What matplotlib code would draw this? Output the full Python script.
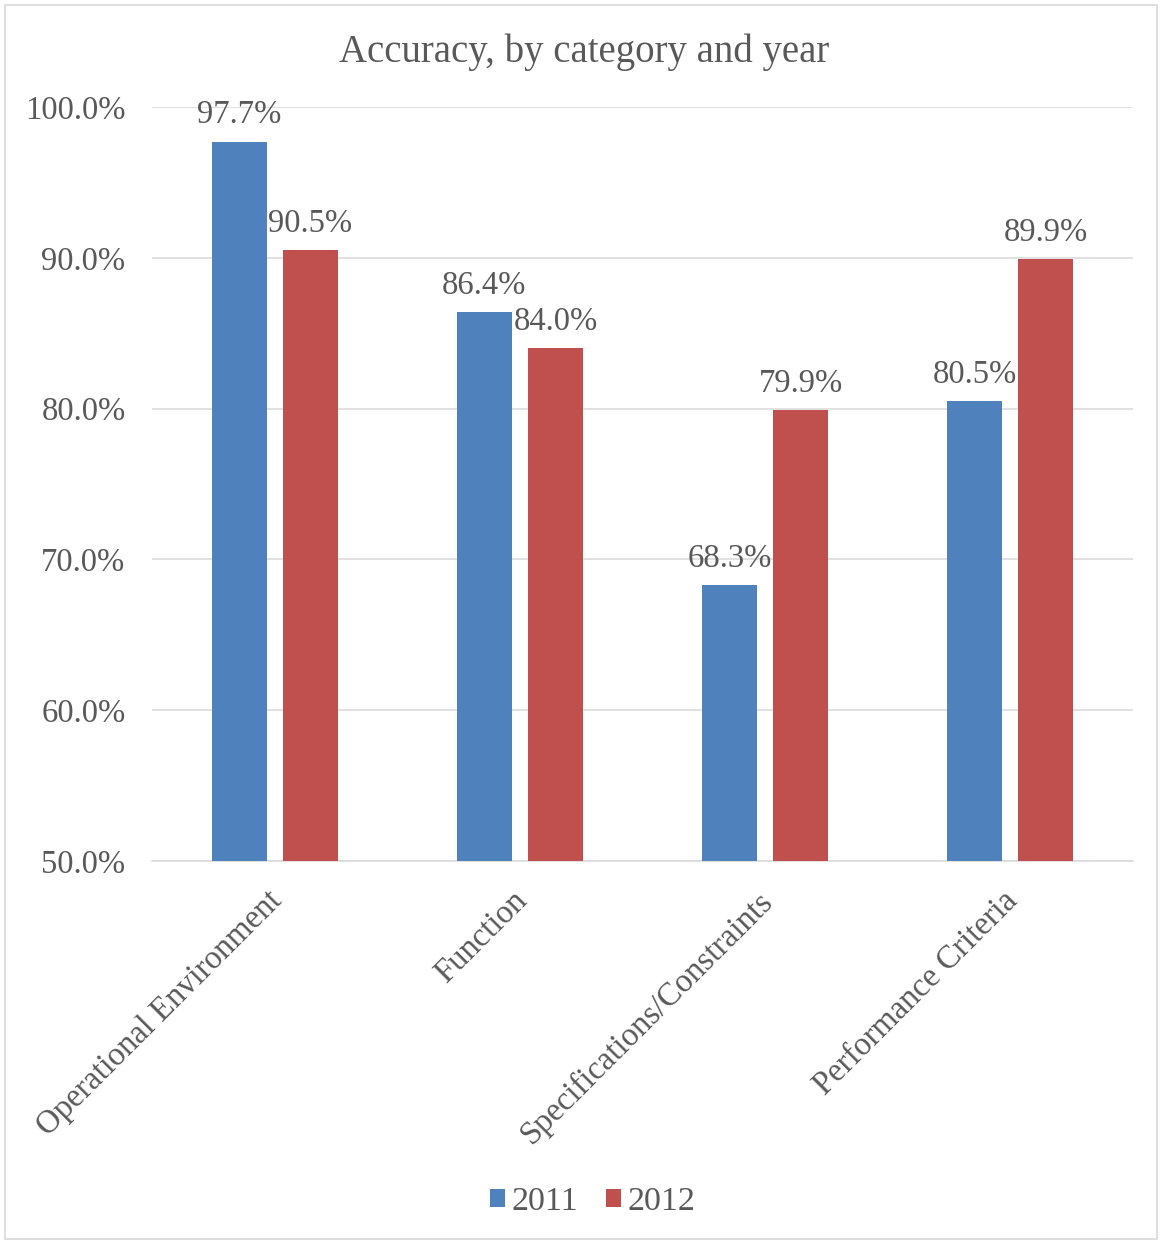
import matplotlib
matplotlib.use('Agg')
import matplotlib.pyplot as plt
import matplotlib.transforms as mtransforms
import numpy as np
from matplotlib.ticker import FuncFormatter

categories = ['Operational Environment', 'Function', 'Specifications/Constraints', 'Performance Criteria']
acc_2011 = [97.7, 86.4, 68.3, 80.5]
acc_2012 = [90.5, 84.0, 79.9, 89.9]
years = ['2011', '2012']

plt.rcParams['font.family'] = ['Liberation Serif', 'DejaVu Serif']
text_color = '#595959'
fs = 23.5

fig = plt.figure(figsize=(11.62, 12.43), dpi=100)
ax = fig.add_axes([0.1308, 0.3073, 0.8442, 0.6066])

# outer border like the Excel chart frame
fig.patches.append(plt.Rectangle((0.004, 0.003), 0.992, 0.993, transform=fig.transFigure,
                                 fill=False, edgecolor='#D9D9D9', linewidth=1.2))

x = np.arange(len(categories))
bar_width = 0.224
offset = 0.145
b1 = ax.bar(x - offset, acc_2011, width=bar_width, color='#4F81BD', label=years[0], zorder=3)
b2 = ax.bar(x + offset, acc_2012, width=bar_width, color='#C0504D', label=years[1], zorder=3)

for bars in (b1, b2):
    for rect in bars:
        h = rect.get_height()
        ax.text(rect.get_x() + rect.get_width() / 2, h + 0.75, f"{h:.1f}%",
                ha='center', va='bottom', fontsize=fs, color=text_color, zorder=4)

ax.set_xlim(-0.5, 3.5)
ax.set_ylim(50, 100)
ax.set_yticks(np.arange(50, 101, 10))
ax.yaxis.set_major_formatter(FuncFormatter(lambda v, p: f"{v:.1f}%"))
ax.grid(axis='y', color='#D9D9D9', linewidth=1.1, zorder=0)
ax.tick_params(axis='both', length=0, labelsize=fs, labelcolor=text_color)
ax.tick_params(axis='y', pad=19)
ax.tick_params(axis='x', pad=14)
ax.set_xticks(x)
ax.set_xticklabels(categories, rotation=45, ha='right', va='top', rotation_mode='anchor')

# nudge category labels a little left and down
shift = mtransforms.ScaledTranslation(-8 / 100, -5 / 100, fig.dpi_scale_trans)
for lbl in ax.get_xticklabels():
    lbl.set_transform(lbl.get_transform() + shift)

for s in ['top', 'right', 'left']:
    ax.spines[s].set_visible(False)
ax.spines['bottom'].set_color('#D9D9D9')
ax.spines['bottom'].set_linewidth(1.1)

fig.text(0.503, 0.958, 'Accuracy, by category and year', fontsize=28, color=text_color,
         ha='center', va='center')

fig.legend(handles=[b1, b2], labels=years, loc='center', bbox_to_anchor=(0.51, 0.033),
           ncol=2, frameon=False, fontsize=24.5, handlelength=0.45, handleheight=0.45,
           handletextpad=0.2, columnspacing=0.8, labelcolor=text_color)

fig.savefig('out.png', dpi=100)
